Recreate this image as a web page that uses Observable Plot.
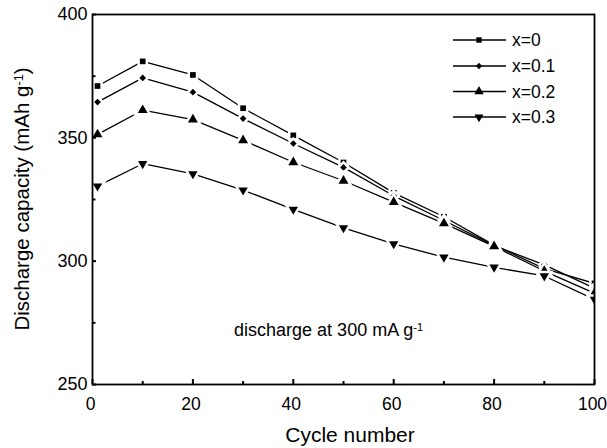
<!DOCTYPE html>
<html>
<head>
<meta charset="utf-8">
<script src="https://cdn.jsdelivr.net/npm/d3@7"></script>
<script src="https://cdn.jsdelivr.net/npm/@observablehq/plot@0.6"></script>
<style>
  html, body { margin: 0; padding: 0; background: #fff; }
  #chart { position: relative; width: 607px; height: 448px; }
  svg { font-family: "Liberation Sans", Arial, Helvetica, sans-serif; }
</style>
</head>
<body>
<div id="chart"></div>
<script>
// ---- data ----
const cycles = [1, 10, 20, 30, 40, 50, 60, 70, 80, 90, 100];
const seriesNames = ["x=0", "x=0.1", "x=0.2", "x=0.3"];
const capX0  = [371.0, 381.0, 375.5, 362.0, 351.0, 340.0, 327.7, 318.0, 306.5, 297.0, 291.0];
const capX01 = [364.5, 374.3, 368.5, 357.8, 347.7, 338.0, 326.5, 316.5, 306.3, 298.5, 289.0];
const capX02 = [351.4, 361.2, 357.4, 349.0, 340.1, 332.6, 323.9, 315.3, 306.0, 296.0, 287.0];
const capX03 = [330.4, 339.5, 335.4, 328.8, 321.0, 313.5, 307.0, 301.6, 297.5, 294.0, 284.5];
const xMajorTicks = [0, 20, 40, 60, 80, 100];
const xMinorTicks = [10, 30, 50, 70, 90];
const yMajorTicks = [250, 300, 350, 400];
const yMinorTicks = [275, 325, 375];
const annotation = "discharge at 300 mA g-1";

// ---- symbols ----
const triangleDown = {
  draw(context, size) {
    const s3 = Math.sqrt(3);
    const y = -Math.sqrt(size / (s3 * 3));
    context.moveTo(0, -y * 2);
    context.lineTo(-s3 * y, y);
    context.lineTo(s3 * y, y);
    context.closePath();
  }
};
const symbols = ["square", "diamond2", "triangle", triangleDown];
const radii = [3.2, 3.0, 3.7, 3.5];

const allValues = [capX0, capX01, capX02, capX03];
const rows = [];
allValues.forEach((vals, si) => vals.forEach((v, i) => rows.push({series: seriesNames[si], cycle: cycles[i], cap: v})));

const marks = [];
seriesNames.forEach((name) => {
  marks.push(Plot.line(rows.filter(d => d.series === name), {x: "cycle", y: "cap", stroke: "black", strokeWidth: 1.3, clip: true}));
});
seriesNames.forEach((name, si) => {
  marks.push(Plot.dot(rows.filter(d => d.series === name), {
    x: "cycle", y: "cap", symbol: () => symbols[si], r: radii[si],
    fill: "black", stroke: "white", strokeWidth: 5, paintOrder: "stroke", clip: true
  }));
});

const fam = '"Liberation Sans", Arial, Helvetica, sans-serif';

const plot = Plot.plot({
  width: 607,
  height: 448,
  marginLeft: 92,
  marginRight: 13,
  marginTop: 14,
  marginBottom: 64,
  style: {fontFamily: fam, color: "black", background: "white"},
  x: {domain: [0, 100]},
  y: {domain: [250, 400]},
  symbol: {type: "identity"},
  marks: [
    ...marks,
    Plot.text([annotation], {x: 28.2, y: 269.5, text: d => d, textAnchor: "start", lineAnchor: "bottom", fontSize: 18, fill: "black"}),
    Plot.axisX({ticks: xMajorTicks, tickSize: 0, tickPadding: 13, fontSize: 17.5, dx: -2, label: null, tickFormat: d => String(d)}),
    Plot.axisX({ticks: xMajorTicks, tickSize: -5, text: null, strokeWidth: 2, label: null}),
    Plot.axisX({ticks: xMinorTicks, tickSize: -3, text: null, strokeWidth: 2, label: null}),
    Plot.axisY({ticks: yMajorTicks, tickSize: 0, tickPadding: 5, fontSize: 18, label: null, tickFormat: d => String(d)}),
    Plot.axisY({ticks: yMajorTicks, tickSize: -4, text: null, strokeWidth: 2, label: null}),
    Plot.axisY({ticks: yMinorTicks, tickSize: -3.5, text: null, strokeWidth: 2, label: null}),
    Plot.frame({stroke: "black", strokeWidth: 1.8})
  ]
});

document.getElementById("chart").appendChild(plot);
const svg = d3.select(plot);

// superscript in annotation
svg.selectAll("text").filter(function() { return this.textContent === annotation; }).each(function() {
  const t = d3.select(this);
  let target = t.select("tspan").empty() ? t : t.select("tspan");
  target.text("discharge at 300 mA g");
  target.append("tspan").attr("dy", "-0.5em").attr("font-size", "0.62em").text("-1");
});

// axis titles
svg.append("text")
  .attr("x", 350).attr("y", 442)
  .attr("text-anchor", "middle")
  .attr("font-size", 21).attr("font-family", fam).attr("fill", "black")
  .text("Cycle number");

const yl = svg.append("text")
  .attr("transform", "translate(29,199) rotate(-90)")
  .attr("text-anchor", "middle")
  .attr("font-size", 20.5).attr("font-family", fam).attr("fill", "black");
yl.append("tspan").text("Discharge capacity (mAh g");
yl.append("tspan").attr("dy", "-0.5em").attr("font-size", "0.62em").text("-1");
yl.append("tspan").attr("dy", "0.31em").text(")");

// legend
const lg = svg.append("g").attr("text-anchor", "start");
const rowY = [40, 66, 91.5, 117];
seriesNames.forEach((name, i) => {
  const y = rowY[i];
  lg.append("line").attr("x1", 453).attr("x2", 506).attr("y1", y).attr("y2", y)
    .attr("stroke", "black").attr("stroke-width", 1.5);
  const symType = i === 0 ? d3.symbolSquare : i === 1 ? d3.symbolDiamond2 : i === 2 ? d3.symbolTriangle : triangleDown;
  const r = radii[i] * 0.95;
  lg.append("path").attr("d", d3.symbol(symType, Math.PI * r * r)())
    .attr("transform", `translate(479,${y})`).attr("fill", "black");
  lg.append("text").attr("x", 512).attr("y", y).attr("dy", "0.35em")
    .attr("text-anchor", "start")
    .attr("font-size", 17.5).attr("font-family", fam).attr("fill", "black").text(name);
});
</script>
</body>
</html>
